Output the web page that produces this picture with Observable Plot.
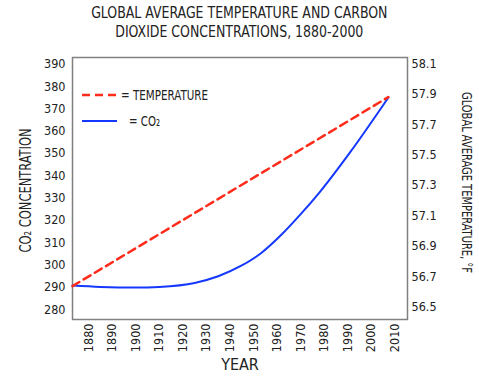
<!DOCTYPE html>
<html>
<head>
<meta charset="utf-8">
<script src="https://cdn.jsdelivr.net/npm/d3@7"></script>
<script src="https://cdn.jsdelivr.net/npm/@observablehq/plot@0.6"></script>
<style>
  html, body { margin: 0; padding: 0; background: #fff; }
  #wrap { position: relative; width: 479px; height: 381px; font-family: "DejaVu Sans", sans-serif; font-stretch: condensed; color: #222; }
  #title { height: 47px; padding-top: 3px; text-align: center; font-size: 16px; line-height: 19px; font-stretch: condensed; }
  #title span { display: inline-block; transform: scaleX(0.87); transform-origin: 50% 50%; white-space: nowrap; }
  #legend { position: absolute; left: 0; top: 0; pointer-events: none; font-stretch: condensed; }
</style>
</head>
<body>
<div id="wrap">
  <div id="title"><span>GLOBAL AVERAGE TEMPERATURE AND CARBON<br>DIOXIDE CONCENTRATIONS, 1880-2000</span></div>
  <div id="chart"></div>
  <svg id="legend" width="479" height="381"></svg>
</div>
<script>
// ---- data ----
const co2Years  = [1873.2, 1885, 1900, 1910, 1925, 1935, 1945, 1953, 1962, 1970, 1978, 1991, 2007.2];
const co2Values = [290.8, 290.2, 289.9, 290.2, 292.0, 295.0, 299.8, 305.2, 313.8, 322.8, 332.6, 350.6, 375.1];
const tempYears  = [1873.2, 2007.2];
const tempValues = [56.64, 57.88];
const xTicks    = [1880, 1890, 1900, 1910, 1920, 1930, 1940, 1950, 1960, 1970, 1980, 1990, 2000, 2010];
const co2Ticks  = [280, 290, 300, 310, 320, 330, 340, 350, 360, 370, 380, 390];
const tempTicks = [56.5, 56.7, 56.9, 57.1, 57.3, 57.5, 57.7, 57.9, 58.1];

// right axis (temperature) mapped onto the left (CO2) scale
const tLo = 56.5, tHi = 58.1, cLo = 281, cHi = 390.3;
const toCO2 = t => cLo + (t - tLo) * (cHi - cLo) / (tHi - tLo);
const fromCO2 = c => tLo + (c - cLo) * (tHi - tLo) / (cHi - cLo);

const co2Data = co2Years.map((year, i) => ({year, value: co2Values[i]}));
const tempData = tempYears.map((year, i) => ({year, value: tempValues[i]}));

const RED = "#ff2b1b", BLUE = "#1438ff";
const FONT = '"DejaVu Sans", sans-serif';
const LEFT_LABEL = "CO₂ CONCENTRATION";
const RIGHT_LABEL = "GLOBAL AVERAGE TEMPERATURE, °F";

const chart = Plot.plot({
  width: 479,
  height: 331,
  marginTop: 7,
  marginBottom: 62,
  marginLeft: 72,
  marginRight: 72,
  x: {domain: [1873.2, 2015.3]},
  y: {domain: [275.6, 393]},
  style: {fontFamily: FONT, fontStretch: "condensed", fontSize: "12.5px", color: "#222", background: "white", overflow: "visible"},
  marks: [
    Plot.frame({stroke: "#808080", strokeWidth: 1.5}),
    Plot.axisY(co2Ticks, {anchor: "left", tickSize: 0, tickPadding: 7, label: null}),
    Plot.axisY(tempTicks.map(toCO2), {anchor: "right", tickSize: 0, tickPadding: 4, label: null,
      tickFormat: v => fromCO2(v).toFixed(1)}),
    Plot.axisX(xTicks, {tickSize: 0, tickPadding: 4, tickRotate: -90, label: null, tickFormat: d => String(d)}),
    Plot.lineY(co2Data, {x: "year", y: "value", stroke: BLUE, strokeWidth: 2, curve: "monotone-x"}),
    Plot.lineY(tempData, {x: "year", y: d => toCO2(d.value), stroke: RED, strokeWidth: 2.5, strokeDasharray: "8,5"}),
    Plot.text([LEFT_LABEL], {frameAnchor: "left", textAnchor: "middle", rotate: -90, dx: -46, dy: 2, fontSize: 15}),
    Plot.text([RIGHT_LABEL], {frameAnchor: "right", textAnchor: "middle", rotate: 90, dx: 59, dy: -6, fontSize: 13.5}),
    Plot.text(["YEAR"], {frameAnchor: "bottom", dy: 50, fontSize: 16})
  ]
});
document.getElementById("chart").appendChild(chart);

// compress the axis titles to the reference's lengths
d3.select(chart).selectAll("text").each(function() {
  const t = this.textContent;
  if (t === LEFT_LABEL) d3.select(this).attr("textLength", 124).attr("lengthAdjust", "spacingAndGlyphs");
  if (t === RIGHT_LABEL) d3.select(this).attr("textLength", 181).attr("lengthAdjust", "spacingAndGlyphs");
});

// legend overlay (inside the plot frame, top-left)
const legend = d3.select("#legend");
const items = [
  {label: "= TEMPERATURE", color: RED, dash: "8,5", width: 2.5, x1: 82, x2: 118, y: 95, tx: 121, len: 87},
  {label: "= CO₂", color: BLUE, dash: null, width: 2, x1: 82, x2: 117, y: 121, tx: 129, len: 31}
];
const g = legend.selectAll("g").data(items).join("g");
g.append("line")
  .attr("x1", d => d.x1).attr("x2", d => d.x2)
  .attr("y1", d => d.y).attr("y2", d => d.y)
  .attr("stroke", d => d.color).attr("stroke-width", d => d.width)
  .attr("stroke-dasharray", d => d.dash);
g.append("text")
  .attr("x", d => d.tx).attr("y", d => d.y)
  .attr("dy", "0.35em")
  .attr("font-family", FONT).attr("font-size", 14).attr("fill", "#222")
  .attr("textLength", d => d.len).attr("lengthAdjust", "spacingAndGlyphs")
  .text(d => d.label);
</script>
</body>
</html>
